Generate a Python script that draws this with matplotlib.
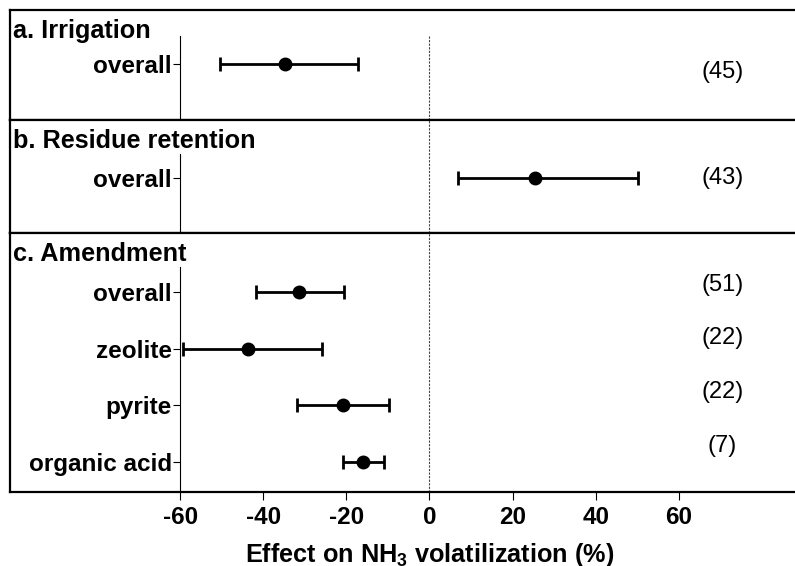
import matplotlib
matplotlib.use('Agg')
import matplotlib.pyplot as plt
from matplotlib.lines import Line2D
import numpy as np

plt.rcParams['font.family'] = ['Liberation Sans', 'DejaVu Sans']
plt.rcParams['mathtext.fontset'] = 'custom'
plt.rcParams['mathtext.rm'] = 'Liberation Sans:bold'
plt.rcParams['mathtext.bf'] = 'Liberation Sans:bold'

titles = ['a. Irrigation', 'b. Residue retention', 'c. Amendment']

irr_labels = ['overall']
irr_mean = [-34.7]
irr_low = [-50.4]
irr_high = [-17.3]
irr_n = [45]

res_labels = ['overall']
res_mean = [25.5]
res_low = [6.9]
res_high = [50.1]
res_n = [43]

amd_labels = ['overall', 'zeolite', 'pyrite', 'organic acid']
amd_mean = [-31.5, -43.7, -20.9, -15.9]
amd_low = [-41.8, -59.3, -31.9, -20.9]
amd_high = [-20.7, -26.0, -9.8, -11.0]
amd_n = [51, 22, 22, 7]

xticks = [-60, -40, -20, 0, 20, 40, 60]

panels = [
    (irr_labels, irr_mean, irr_low, irr_high, irr_n),
    (res_labels, res_mean, res_low, res_high, res_n),
    (amd_labels, amd_mean, amd_low, amd_high, amd_n),
]

# layout (pixels)
W, H = 795, 566
tops = [10, 120, 233]
bottoms = [120, 233, 492]
first_row = [54, 58, 59]
spine_gap = [26, 34, 34]
count_shift = [[0.14], [0.0], [-0.12, -0.18, -0.23, -0.28]]
row_px = 56.7
xmin, xmax = -101, 88

fig = plt.figure(figsize=(W / 100, H / 100), dpi=100)

for i, (labels, mean, low, high, n) in enumerate(panels):
    h = bottoms[i] - tops[i]
    ax = fig.add_axes([10 / W, 1 - bottoms[i] / H, 1 - 10 / W, h / H])
    ax.spines['left'].set_position(('data', -60))

    y = np.arange(len(labels))
    mean = np.array(mean)
    err = [mean - np.array(low), np.array(high) - mean]
    ax.errorbar(mean, y, xerr=err, fmt='o', color='black', ms=9,
                elinewidth=2, capsize=5, capthick=2, zorder=3)

    ytop = -first_row[i] / row_px
    ybot = (h - first_row[i]) / row_px
    ax.set_ylim(ybot, ytop)
    ax.set_xlim(xmin, xmax)

    ax.set_yticks(y)
    ax.set_yticklabels(labels, fontsize=17.5, fontweight='bold')
    ax.tick_params(axis='y', length=5, width=0.8, pad=1)

    ax.spines['left'].set_bounds(ybot, ytop + spine_gap[i] / row_px)
    ax.spines['left'].set_linewidth(0.8)
    ax.spines['right'].set_visible(False)
    ax.spines['top'].set_linewidth(1.6)
    ax.spines['bottom'].set_linewidth(1.6)
    ax.add_line(Line2D([0, 0], [0, 1], transform=ax.transAxes, color='black',
                       lw=1.6, clip_on=False))

    dash_top = 1 - 25 / h if i == 0 else 1
    ax.axvline(0, ymin=0, ymax=dash_top, color='#444444', lw=0.8,
               ls=(0, (2, 1.2)), zorder=1)

    ax.annotate(titles[i], xy=(0, 1), xycoords='axes fraction', xytext=(2.5, -20),
                textcoords='offset points', fontsize=18.2, fontweight='bold',
                ha='left', va='baseline')

    for k, cnt in enumerate(n):
        ax.text(70.5, y[k] + count_shift[i][k], f'({cnt})', fontsize=17,
                ha='center', va='center')

    if i < 2:
        ax.set_xticks([])
    else:
        ax.set_xticks(xticks)
        ax.set_xticklabels([str(t) for t in xticks], fontsize=17.5, fontweight='bold')
        ax.tick_params(axis='x', length=6, width=0.8, pad=4)
        ax.set_xlabel(r'Effect on NH$_\mathbf{3}$ volatilization (%)', fontsize=18.2,
                      fontweight='bold')
        ax.xaxis.set_label_coords((0 - xmin) / (xmax - xmin), -0.19)

fig.savefig('out.png', dpi=100)
